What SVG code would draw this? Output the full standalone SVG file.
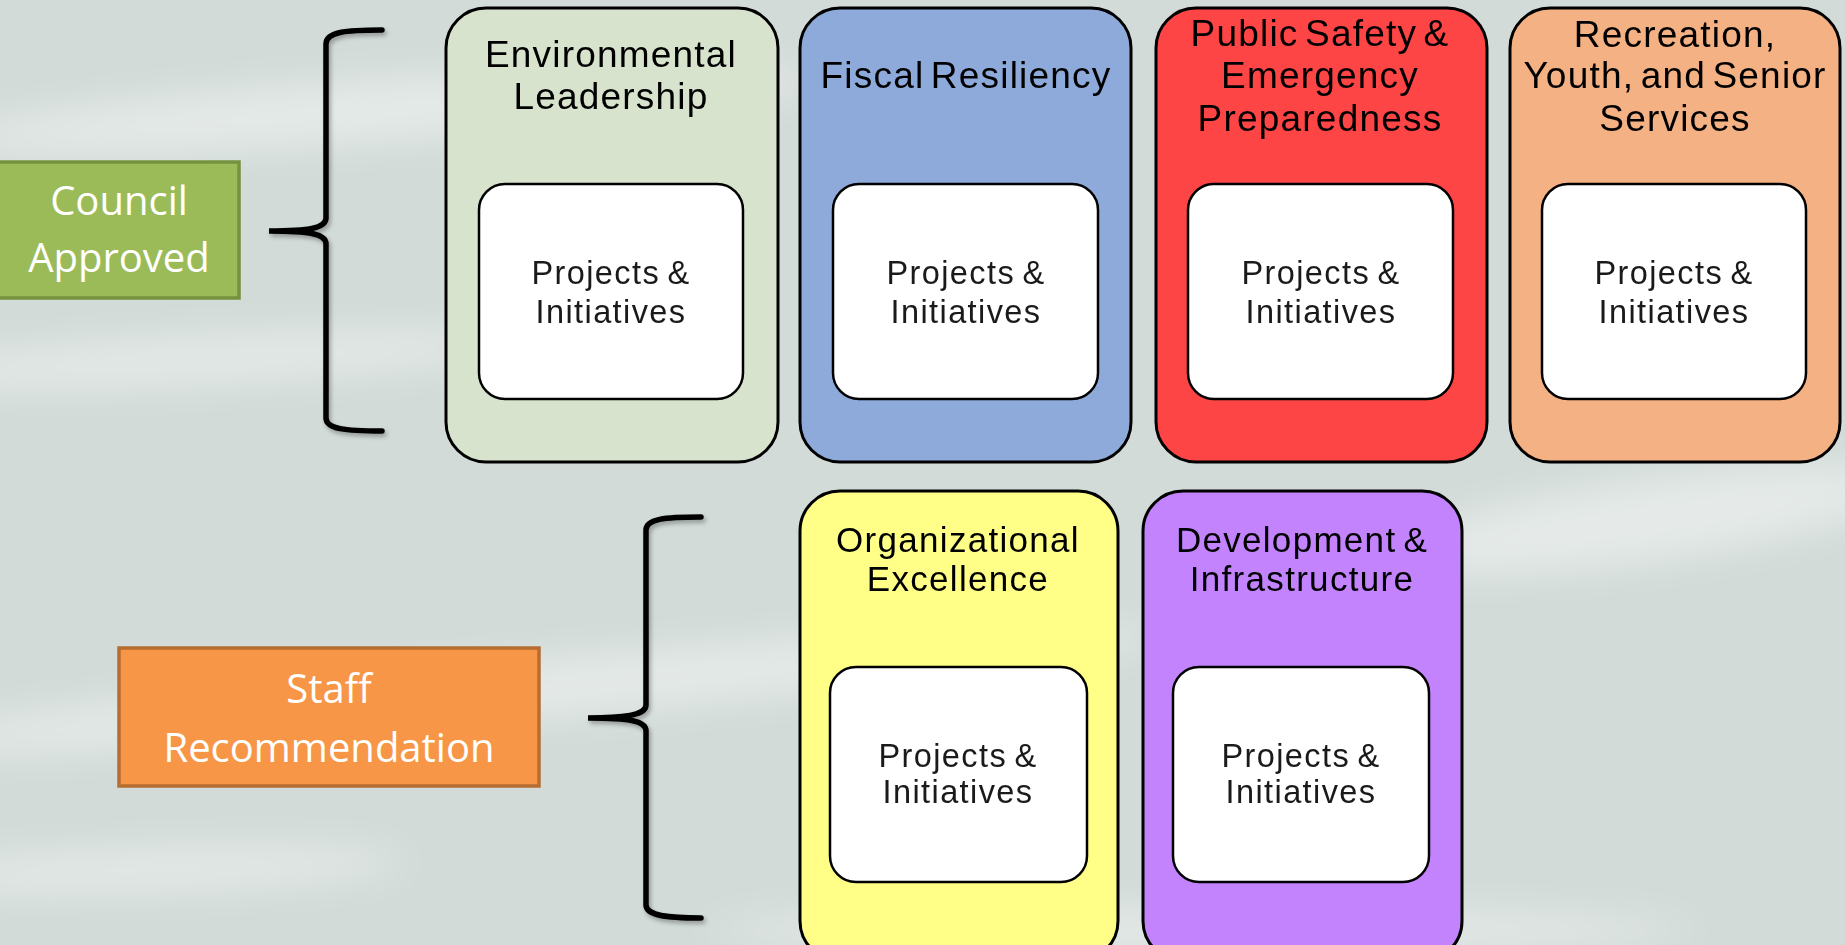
<svg xmlns="http://www.w3.org/2000/svg" width="1845" height="945" viewBox="0 0 1845 945">
<defs>
<filter id="blur" x="-20%" y="-300%" width="140%" height="700%"><feGaussianBlur stdDeviation="20"/></filter>
<filter id="shadow" x="-10%" y="-10%" width="130%" height="130%"><feDropShadow dx="2" dy="3" stdDeviation="2" flood-color="#000" flood-opacity="0.3"/></filter>
<style>
.bg{fill:#d2dbd8}
.streak{fill:#ffffff;filter:url(#blur)}
.outer{stroke:#000;stroke-width:3}
.inner{fill:#fff;stroke:#000;stroke-width:2.5}
.title{font-family:"Liberation Sans",Arial,sans-serif;font-size:37px;letter-spacing:1.2px;word-spacing:-5px;fill:#000;text-anchor:middle}
.title2{font-family:"Liberation Sans",Arial,sans-serif;font-size:35px;letter-spacing:1.3px;word-spacing:-4px;fill:#000;text-anchor:middle}
.body{font-family:"Liberation Sans",Arial,sans-serif;font-size:32.5px;letter-spacing:1.4px;word-spacing:-3px;fill:#1a1a1a;text-anchor:middle}
.label{font-family:"Open Sans","Noto Sans",sans-serif;font-size:40px;fill:#fff;text-anchor:middle}
.brace{fill:none;stroke:#000;stroke-width:5.5;stroke-linecap:round;filter:url(#shadow)}
</style>
</defs>
<rect class="bg" x="0" y="0" width="1845" height="945"/>
<g opacity="0.45">
<ellipse class="streak" cx="380" cy="110" rx="440" ry="30" transform="rotate(-4 380 110)"/>
<ellipse class="streak" cx="200" cy="360" rx="330" ry="22" transform="rotate(-3 200 360)"/>
<ellipse class="streak" cx="520" cy="690" rx="650" ry="28" transform="rotate(-5 520 690)"/>
<ellipse class="streak" cx="1650" cy="520" rx="260" ry="40" transform="rotate(-8 1650 520)"/>
<ellipse class="streak" cx="150" cy="870" rx="260" ry="20" transform="rotate(-2 150 870)"/>
<ellipse class="streak" cx="1200" cy="930" rx="500" ry="20"/>
</g>

<g id="council-approved">
<rect x="-2" y="162" width="241" height="136" fill="#9bbb59" stroke="#76923c" stroke-width="3.5"/>
<text class="label" x="119" y="215">Council</text>
<text class="label" x="119" y="272">Approved</text>
</g>

<g id="staff-recommendation">
<rect x="119" y="648" width="420" height="138" fill="#f79646" stroke="#b66d31" stroke-width="3.5"/>
<text class="label" x="329" y="703">Staff</text>
<text class="label" x="329" y="762">Recommendation</text>
</g>

<g id="connectors">
<path class="brace" d="M 382 30 C 345 30, 326 32, 326 44 L 326 218 C 326 228, 310 231, 269 231 C 310 231, 326 234, 326 244 L 326 418 C 326 429, 345 431, 382 431"/>
<path class="brace" d="M 701 517 C 664 517, 646 519, 646 530 L 646 705 C 646 714, 630 718, 588 718 C 630 718, 646 721, 646 731 L 646 905 C 646 915, 664 918, 701 918"/>
</g>

<g id="environmental-leadership">
<rect class="outer" x="446" y="8" width="332" height="454" rx="40" fill="#d8e3cd"/>
<text class="title" x="611" y="67">Environmental</text>
<text class="title" x="611" y="109">Leadership</text>
<rect class="inner" x="479" y="184" width="264" height="215" rx="26"/>
<text class="body" x="611" y="284">Projects &amp;</text>
<text class="body" x="611" y="323">Initiatives</text>
</g>

<g id="fiscal-resiliency">
<rect class="outer" x="800" y="8" width="331" height="454" rx="40" fill="#8eaadb"/>
<text class="title" x="966" y="88">Fiscal Resiliency</text>
<rect class="inner" x="833" y="184" width="265" height="215" rx="26"/>
<text class="body" x="966" y="284">Projects &amp;</text>
<text class="body" x="966" y="323">Initiatives</text>
</g>

<g id="public-safety">
<rect class="outer" x="1156" y="8" width="331" height="454" rx="40" fill="#fe4545"/>
<text class="title" x="1320" y="46">Public Safety &amp;</text>
<text class="title" x="1320" y="88">Emergency</text>
<text class="title" x="1320" y="131">Preparedness</text>
<rect class="inner" x="1188" y="184" width="265" height="215" rx="26"/>
<text class="body" x="1321" y="284">Projects &amp;</text>
<text class="body" x="1321" y="323">Initiatives</text>
</g>

<g id="recreation-youth-senior">
<rect class="outer" x="1510" y="8" width="330" height="454" rx="40" fill="#f4b183"/>
<text class="title" x="1675" y="47">Recreation,</text>
<text class="title" x="1675" y="88">Youth, and Senior</text>
<text class="title" x="1675" y="131">Services</text>
<rect class="inner" x="1542" y="184" width="264" height="215" rx="26"/>
<text class="body" x="1674" y="284">Projects &amp;</text>
<text class="body" x="1674" y="323">Initiatives</text>
</g>

<g id="organizational-excellence">
<rect class="outer" x="800" y="491" width="318" height="470" rx="40" fill="#ffff88"/>
<text class="title2" x="958" y="552">Organizational</text>
<text class="title2" x="958" y="591">Excellence</text>
<rect class="inner" x="830" y="667" width="257" height="215" rx="26"/>
<text class="body" x="958" y="767">Projects &amp;</text>
<text class="body" x="958" y="803">Initiatives</text>
</g>

<g id="development-infrastructure">
<rect class="outer" x="1143" y="491" width="319" height="470" rx="40" fill="#c283fd"/>
<text class="title2" x="1302" y="552">Development &amp;</text>
<text class="title2" x="1302" y="591">Infrastructure</text>
<rect class="inner" x="1173" y="667" width="256" height="215" rx="26"/>
<text class="body" x="1301" y="767">Projects &amp;</text>
<text class="body" x="1301" y="803">Initiatives</text>
</g>
</svg>
